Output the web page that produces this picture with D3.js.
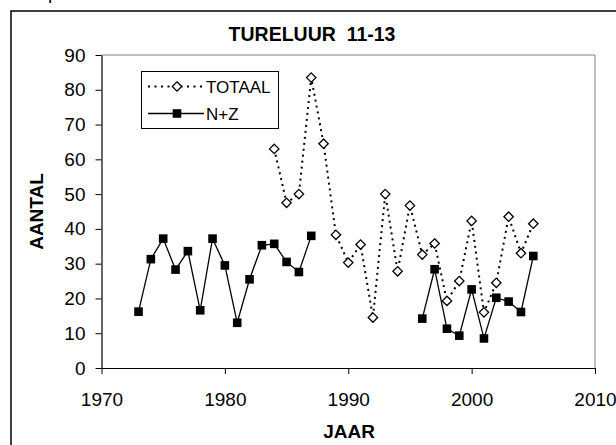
<!DOCTYPE html>
<html>
<head>
<meta charset="utf-8">
<script src="https://cdn.jsdelivr.net/npm/d3@7"></script>
<style>
  body { margin: 0; background: #fff; }
  svg text { font-family: "Liberation Sans", Arial, sans-serif; }
</style>
</head>
<body>
<svg id="chart" width="616" height="445"></svg>
<script>
// years + counts
var totaalYears = [1984, 1985, 1986, 1987, 1988, 1989, 1990, 1991, 1992, 1993, 1994,
  1995, 1996, 1997, 1998, 1999, 2000, 2001, 2002, 2003, 2004, 2005];
var totaalValues = [63, 47.5, 50, 83.5, 64.5, 38.3, 30.3, 35.5, 14.5, 50, 27.8,
  46.7, 32.6, 35.8, 19.3, 25, 42.3, 16, 24.5, 43.5, 33, 41.5];

var nzYears = [1973, 1974, 1975, 1976, 1977, 1978, 1979, 1980, 1981, 1982, 1983,
  1984, 1985, 1986, 1987, 1988, 1989, 1990, 1991, 1992, 1993, 1994, 1995,
  1996, 1997, 1998, 1999, 2000, 2001, 2002, 2003, 2004, 2005];
var nzValues = [16.2, 31.3, 37.2, 28.3, 33.6, 16.6, 37.2, 29.5, 13, 25.5, 35.3,
  35.7, 30.5, 27.6, 38, null, null, null, null, null, null, null, null,
  14.2, 28.4, 11.3, 9.3, 22.6, 8.5, 20.2, 19.1, 16.1, 32.2];

var xTicks = [1970, 1980, 1990, 2000, 2010];
var yTicks = [0, 10, 20, 30, 40, 50, 60, 70, 80, 90];

var svg = d3.select('#chart');

// outer frame (right + bottom edges run off the picture)
svg.append('rect')
  .attr('x', 11).attr('y', 11)
  .attr('width', 700).attr('height', 600)
  .attr('fill', 'none').attr('stroke', '#000').attr('stroke-width', 1.5);

svg.append('text')
  .attr('x', 48).attr('y', -1)
  .style('font-size', '19px')
  .text('p');

var x = d3.scaleLinear().domain([1970, 2010]).range([101.5, 595]);
var y = d3.scaleLinear().domain([0, 90]).range([368, 55]);

// plot area border (gray top/right)
svg.append('path')
  .attr('d', 'M' + x(1970) + ',' + y(90) + 'H' + x(2010) + 'V' + y(0))
  .attr('fill', 'none').attr('stroke', '#808080').attr('stroke-width', 1);

svg.append('text')
  .attr('x', 312).attr('y', 41)
  .attr('text-anchor', 'middle')
  .style('font-size', '19.5px').style('font-weight', 'bold')
  .style('white-space', 'pre')
  .text('TURELUUR  11-13');

var xAxis = svg.append('g')
  .attr('transform', 'translate(0,' + y(0) + ')')
  .call(d3.axisBottom(x).tickValues(xTicks).tickFormat(d3.format('d'))
    .tickSize(6).tickSizeOuter(0).tickPadding(19));
var yAxis = svg.append('g')
  .attr('transform', 'translate(' + x(1970) + ',0)')
  .call(d3.axisLeft(y).tickValues(yTicks).tickSize(6).tickSizeOuter(0).tickPadding(10));

[xAxis, yAxis].forEach(function (g) {
  g.selectAll('text').style('font-size', '19px').attr('fill', '#000')
    .style('font-family', '"Liberation Sans", Arial, sans-serif');
  g.selectAll('line').attr('stroke', '#000');
  g.select('.domain').attr('stroke', '#000').attr('stroke-width', 1.2);
});

svg.append('text')
  .attr('x', 349).attr('y', 438)
  .attr('text-anchor', 'middle')
  .style('font-size', '19px').style('font-weight', 'bold')
  .text('JAAR');

svg.append('text')
  .attr('transform', 'translate(43,' + ((y(0) + y(90)) / 2) + ') rotate(-90)')
  .attr('text-anchor', 'middle')
  .style('font-size', '19px').style('font-weight', 'bold')
  .text('AANTAL');

var totaal = totaalYears.map(function (d, i) { return { year: d, value: totaalValues[i] }; });
var nz = nzYears.map(function (d, i) { return { year: d, value: nzValues[i] }; });

var line = d3.line()
  .defined(function (d) { return d.value !== null; })
  .x(function (d) { return x(d.year); })
  .y(function (d) { return y(d.value); });

svg.append('path')
  .datum(totaal)
  .attr('d', line)
  .attr('fill', 'none').attr('stroke', '#000')
  .attr('stroke-width', 2).attr('stroke-dasharray', '2,4');

svg.append('path')
  .datum(nz)
  .attr('d', line)
  .attr('fill', 'none').attr('stroke', '#000').attr('stroke-width', 1.3);

var diamond = 'M0,-4.7L4.7,0L0,4.7L-4.7,0Z';

svg.selectAll('.dia')
  .data(totaal)
  .enter().append('path')
  .attr('class', 'dia')
  .attr('d', diamond)
  .attr('transform', function (d) { return 'translate(' + x(d.year) + ',' + y(d.value) + ')'; })
  .attr('fill', '#fff').attr('stroke', '#000').attr('stroke-width', 1.3);

svg.selectAll('.sq')
  .data(nz.filter(function (d) { return d.value !== null; }))
  .enter().append('rect')
  .attr('class', 'sq')
  .attr('x', function (d) { return x(d.year) - 4.3; })
  .attr('y', function (d) { return y(d.value) - 4.3; })
  .attr('width', 8.6).attr('height', 8.6)
  .attr('fill', '#000');

// legend
var legend = svg.append('g');
legend.append('rect')
  .attr('x', 141.5).attr('y', 71.5)
  .attr('width', 137).attr('height', 57)
  .attr('fill', '#fff').attr('stroke', '#000').attr('stroke-width', 1);

legend.append('line')
  .attr('x1', 148).attr('x2', 204).attr('y1', 86.5).attr('y2', 86.5)
  .attr('stroke', '#000').attr('stroke-width', 2).attr('stroke-dasharray', '2,4.5');
legend.append('path')
  .attr('d', diamond)
  .attr('transform', 'translate(177,86.5)')
  .attr('fill', '#fff').attr('stroke', '#000').attr('stroke-width', 1.3);
legend.append('text')
  .attr('x', 206).attr('y', 92.5)
  .style('font-size', '17px')
  .text('TOTAAL');

legend.append('line')
  .attr('x1', 148).attr('x2', 204).attr('y1', 113.5).attr('y2', 113.5)
  .attr('stroke', '#000').attr('stroke-width', 1.3);
legend.append('rect')
  .attr('x', 177 - 4.3).attr('y', 113.5 - 4.3)
  .attr('width', 8.6).attr('height', 8.6)
  .attr('fill', '#000');
legend.append('text')
  .attr('x', 206).attr('y', 119.5)
  .style('font-size', '17px')
  .text('N+Z');
</script>
</body>
</html>
